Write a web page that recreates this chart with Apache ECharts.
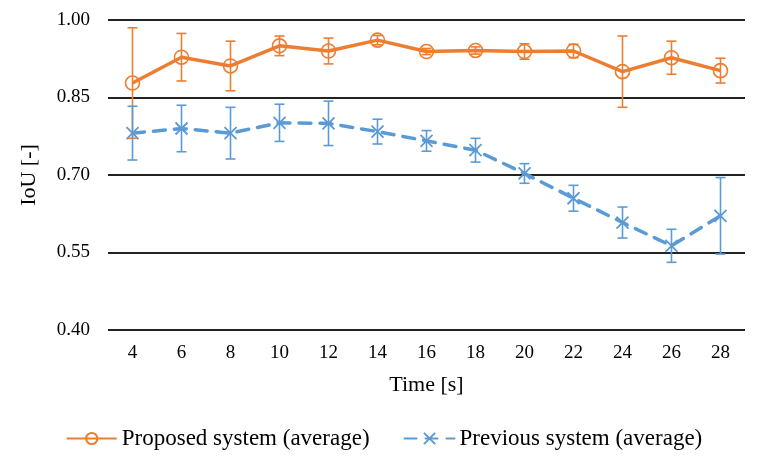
<!DOCTYPE html>
<html><head><meta charset="utf-8">
<script src="https://cdn.jsdelivr.net/npm/echarts@6/dist/echarts.min.js"></script>
<style>html,body{margin:0;padding:0;background:#fff}#c{width:768px;height:468px}</style>
</head><body><div id="c"></div>
<script>
const categories = ['4','6','8','10','12','14','16','18','20','22','24','26','28'];
const proposedMean = [0.878,0.928,0.911,0.950,0.940,0.961,0.939,0.941,0.939,0.940,0.900,0.927,0.902];
const proposedErr  = [0.107,0.046,0.048,0.019,0.025,0.009,0.006,0.007,0.015,0.013,0.069,0.032,0.024];
const previousMean = [0.781,0.790,0.781,0.801,0.800,0.784,0.766,0.748,0.703,0.655,0.608,0.563,0.621];
const previousErr  = [0.052,0.045,0.050,0.036,0.043,0.024,0.020,0.023,0.019,0.025,0.030,0.032,0.074];
const yTicks = [0.40,0.55,0.70,0.85,1.00];

const ORANGE = '#ED7D31', BLUE = '#5B9BD5';
const FONT = '"Liberation Serif", "Times New Roman", serif';

function errData(mean, err){ return mean.map((m,i)=>[i, m-err[i], m+err[i]]); }
function errRender(color){
  return function(params, api){
    const x = api.value(0);
    const lo = api.coord([x, api.value(1)]);
    const hi = api.coord([x, api.value(2)]);
    const w = 5;
    const st = {stroke: color, lineWidth: 1.6, fill: 'none'};
    return {type:'group', children:[
      {type:'line', shape:{x1:lo[0],y1:lo[1],x2:hi[0],y2:hi[1]}, style:st},
      {type:'line', shape:{x1:lo[0]-w,y1:lo[1],x2:lo[0]+w,y2:lo[1]}, style:st},
      {type:'line', shape:{x1:hi[0]-w,y1:hi[1],x2:hi[0]+w,y2:hi[1]}, style:st}
    ]};
  };
}

const chart = echarts.init(document.getElementById('c'));
chart.setOption({
  animation:false,
  textStyle:{fontFamily:FONT},
  grid:{left:108,right:23,top:20,bottom:138},
  legend:{
    bottom:13, left:'center', itemWidth:50, itemHeight:14, itemGap:34,
    textStyle:{fontFamily:FONT,fontSize:23,color:'#000'},
    data:['Proposed system (average)','Previous system (average)']
  },
  xAxis:{
    type:'category', data:categories, boundaryGap:true,
    name:'Time [s]', nameLocation:'middle', nameGap:44,
    nameTextStyle:{fontFamily:FONT,fontSize:22,color:'#000'},
    axisLine:{show:false}, axisTick:{show:false},
    axisLabel:{fontFamily:FONT,fontSize:19,color:'#000',margin:14}
  },
  yAxis:{
    type:'value', min:yTicks[0], max:yTicks[yTicks.length-1], interval:0.15,
    name:'IoU [-]', nameLocation:'middle', nameGap:68,
    nameTextStyle:{fontFamily:FONT,fontSize:22,color:'#000'},
    axisLine:{show:false}, axisTick:{show:false},
    axisLabel:{fontFamily:FONT,fontSize:19,color:'#000',margin:18,formatter:v=>v.toFixed(2)},
    splitLine:{lineStyle:{color:'#222',width:2}}
  },
  series:[
    {name:'Proposed system (average)', type:'line', data:proposedMean,
     symbol:'circle', symbolSize:14, z:3,
     lineStyle:{color:ORANGE,width:3.5},
     itemStyle:{color:'rgba(0,0,0,0)',borderColor:ORANGE,borderWidth:1.6}},
    {name:'Previous system (average)', type:'line', data:previousMean,
     symbol:'path://M0,0L10,10M10,0L0,10', symbolSize:12, z:3,
     lineStyle:{color:BLUE,width:3.5,type:[12,9],cap:'round'},
     itemStyle:{color:BLUE,borderColor:BLUE,borderWidth:1.8}},
    {type:'custom', name:'perr', data:errData(proposedMean,proposedErr), renderItem:errRender(ORANGE), z:4, silent:true},
    {type:'custom', name:'berr', data:errData(previousMean,previousErr), renderItem:errRender(BLUE), z:4, silent:true}
  ]
});
</script></body></html>
